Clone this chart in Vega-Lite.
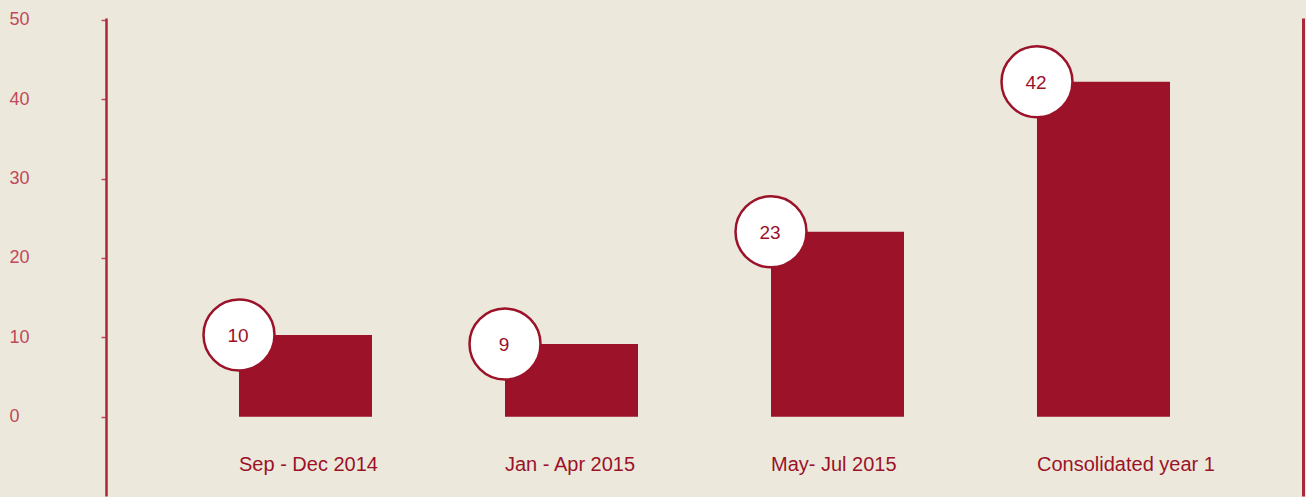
{
  "$schema": "https://vega.github.io/schema/vega-lite/v6.json",
  "width": 1197,
  "height": 478,
  "autosize": {"type": "none"},
  "padding": {"left": 106, "top": 18, "right": 3, "bottom": 1},
  "background": "#ECE9DC",
  "config": {"view": {"stroke": null}},
  "data": {
    "values": [
      {"period": "Sep - Dec 2014", "value": 10.3, "label": "10"},
      {"period": "Jan - Apr 2015", "value": 9.15, "label": "9"},
      {"period": "May- Jul 2015", "value": 23.3, "label": "23"},
      {"period": "Consolidated year 1", "value": 42.2, "label": "42"}
    ]
  },
  "encoding": {
    "x": {
      "field": "period",
      "type": "nominal",
      "sort": null,
      "scale": {"type": "band", "paddingInner": 0.5, "paddingOuter": 0.5},
      "axis": null
    }
  },
  "layer": [
    {
      "mark": {"type": "bar", "color": "#9B1229"},
      "encoding": {
        "y": {
          "field": "value",
          "type": "quantitative",
          "scale": {"domain": [-10, 50.25], "nice": false, "zero": false},
          "axis": {
            "orient": "left",
            "title": null,
            "values": [0, 10, 20, 30, 40, 50],
            "grid": false,
            "domainColor": "#A8283C",
            "domainWidth": 2.5,
            "tickColor": "#C0485A",
            "tickSize": 5,
            "tickWidth": 1.5,
            "labelAlign": "left",
            "labelPadding": 92,
            "labelFont": "Liberation Sans",
            "labelFontSize": 18,
            "labelColor": "#C0485A",
            "labelBaseline": "middle"
          }
        },
        "y2": {"datum": 0}
      }
    },
    {
      "mark": {"type": "point", "shape": "circle", "filled": true, "fill": "#FFFFFF", "stroke": "#9B1229", "strokeWidth": 2.5, "opacity": 1, "size": 5040, "xOffset": -66.5},
      "encoding": {
        "y": {
          "field": "value",
          "type": "quantitative",
          "axis": {
            "orient": "right",
            "title": null,
            "labels": false,
            "ticks": false,
            "grid": false,
            "domainColor": "#A8283C",
            "domainWidth": 3
          }
        }
      }
    },
    {
      "mark": {"type": "text", "dx": -67.5, "dy": 1, "align": "center", "baseline": "middle", "font": "Liberation Sans", "fontSize": 19, "color": "#9B1229"},
      "encoding": {
        "y": {"field": "value", "type": "quantitative", "axis": null},
        "text": {"field": "label"}
      }
    },
    {
      "mark": {"type": "text", "dx": -66.5, "align": "left", "baseline": "middle", "font": "Liberation Sans", "fontSize": 20, "color": "#9B1229"},
      "encoding": {
        "y": {"datum": -6.1, "axis": null},
        "text": {"field": "period"}
      }
    }
  ],
  "resolve": {"axis": {"y": "independent"}}
}
